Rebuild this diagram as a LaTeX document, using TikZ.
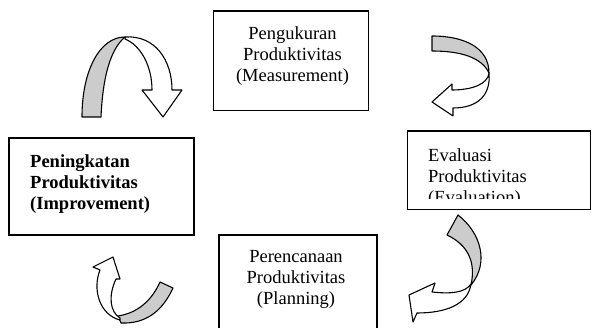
\documentclass[tikz,border=0pt]{standalone}
\usepackage{fontspec}
\setmainfont{Liberation Serif}
\begin{document}
\begin{tikzpicture}[x=1pt, y=-1pt,
    box/.style={draw, line width=1.2pt, inner sep=0pt},
    label/.style={font=\fontsize{18.5}{21}\selectfont, inner sep=0pt},
    band/.style={draw, line width=1.1pt, line join=round},
    back/.style={band, fill=gray!40},
    front/.style={band, fill=white}]
    \useasboundingbox (0,0) rectangle (592,328);
    \clip (0,0) rectangle (592,328);

    % Boxes with manual coordinates
    \node[box, minimum width=155pt, minimum height=99.5pt] (meas) at (291,60.75) {};
    \node[box, minimum width=183pt, minimum height=78.5pt] (eval) at (499,170.25) {};
    \node[box, minimum width=185pt, minimum height=97pt] (impr) at (101.5,186.5) {};
    \node[box, minimum width=158pt, minimum height=100pt] (plan) at (298,285) {};

    % Texts
    \node[label, align=center] (measT) at (292.5,56.5) {Pengukuran\\Produktivitas\\(Measurement)};
    \node[label, align=center] (planT) at (296,279) {Perencanaan\\Produktivitas\\(Planning)};
    \node[label, align=left, anchor=west, font=\fontsize{18.5}{21}\selectfont\bfseries] (imprT) at (30,184.5) {Peningkatan\\Produktivitas\\(Improvement)};
    \begin{scope}
        \clip (407,131) rectangle (591,199);
        \node[label, align=left, anchor=west] (evalT) at (428,178.5) {Evaluasi\\Produktivitas\\(Evaluation)};
    \end{scope}

    % Arrows
    \draw[back] (125,37) .. controls (100,37) and (82,70) .. (82,117) -- (101,117)
        .. controls (103,72) and (112,48) .. (125,37) -- cycle;
    \draw[front] (125,37) .. controls (155,35) and (172,60) .. (172,90) -- (182,90) -- (163,117)
        -- (142,90) -- (152,90) .. controls (152,65) and (140,45) .. (125,39) -- cycle;

    \draw[back] (432,36) .. controls (465,36) and (489,48) .. (489,73)
        .. controls (482,58) and (462,51) .. (432,51) -- cycle;
    \draw[front] (489,73) .. controls (488,84) and (472,90) .. (452,90) -- (452,84) -- (432,102)
        -- (453,116) -- (453,108) .. controls (478,108) and (491,95) .. (489,73) -- cycle;

    \draw[back] (458,215) .. controls (480,232) and (490,262) .. (471,285)
        .. controls (476,262) and (468,245) .. (447,235) -- cycle;
    \draw[front] (471,284) .. controls (465,293) and (450,294) .. (432,292) -- (435,283) -- (409,295)
        -- (413,322) -- (417,313) .. controls (445,313) and (468,305) .. (471,284) -- cycle;

    \draw[back] (160,282) -- (173,288) .. controls (162,312) and (145,324) .. (121,323)
        -- (118,316) .. controls (138,313) and (152,300) .. (160,282) -- cycle;
    \draw[front] (120,320) .. controls (100,315) and (92,290) .. (100,270) -- (93,267) -- (113,257)
        -- (120,279) -- (116,279) .. controls (108,296) and (110,312) .. (120,318) -- cycle;
\end{tikzpicture}
\end{document}
